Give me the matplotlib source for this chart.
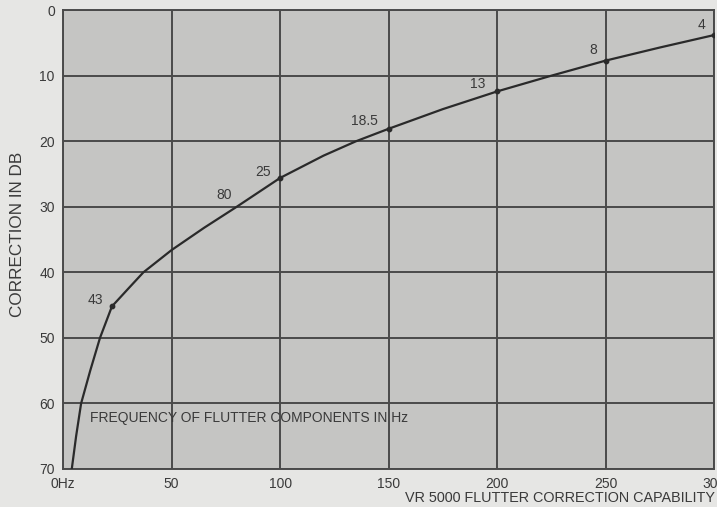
import numpy as np
import matplotlib
matplotlib.use("Agg")
import matplotlib.pyplot as plt

# curve (Hz, dB)
freq = [4, 6, 8.3, 12.5, 17, 22.5, 30, 37, 50, 65, 80, 100, 120, 135, 150, 175, 200, 225, 250, 275, 300]
db = [70, 65, 60, 55, 50, 45.2, 42.5, 40, 36.6, 33.2, 30, 25.6, 22.2, 20, 18.1, 15.1, 12.4, 10, 7.7, 5.7, 3.8]

# labelled points on the curve (the 80 label has no dot)
pt_freq = [22.5, 80, 100, 150, 200, 250, 300]
pt_db = [45.2, 30, 25.6, 18.1, 12.4, 7.7, 3.8]
pt_labels = ["43", "80", "25", "18.5", "13", "8", "4"]
pt_dot = [True, False, True, True, True, True, True]
pt_offsets = [(-17, 6), (-13, 12), (-17, 6), (-24, 8), (-19, 7), (-12, 11), (-13, 10)]

xticks = [0, 50, 100, 150, 200, 250, 300]
xticklabels = ["0Hz", "50", "100", "150", "200", "250", "300"]
yticks = [0, 10, 20, 30, 40, 50, 60, 70]

txt = "#3a3a3a"
plt.rcParams['font.family'] = ['Liberation Sans', 'DejaVu Sans']

fig = plt.figure(figsize=(7.17, 5.07), dpi=100)
fig.patch.set_facecolor("#e6e6e4")
ax = fig.add_axes([0.088, 0.075, 0.908, 0.905])
ax.set_facecolor("#c5c5c3")

ax.plot(freq, db, color="#2a2a2a", lw=1.6, zorder=3)
dx = [f for f, d in zip(pt_freq, pt_dot) if d]
dy = [v for v, d in zip(pt_db, pt_dot) if d]
ax.scatter(dx, dy, s=10, color="#2a2a2a", zorder=4)
for x, y, lab, off in zip(pt_freq, pt_db, pt_labels, pt_offsets):
    ax.annotate(lab, (x, y), xytext=off, textcoords="offset pixels",
                ha="center", va="center", fontsize=10, color=txt)

ax.set_xlim(0, 300)
ax.set_ylim(70, 0)
ax.set_xticks(xticks)
ax.set_xticklabels(xticklabels)
ax.set_yticks(yticks)
ax.tick_params(length=0, labelsize=10, colors=txt, pad=6)
ax.grid(True, color="#4a4a4a", lw=1.4)
ax.set_axisbelow(True)
for s in ax.spines.values():
    s.set_color("#4a4a4a")
    s.set_linewidth(1.4)

ax.text(12.5, 62.2, "FREQUENCY OF FLUTTER COMPONENTS IN Hz", fontsize=10,
        color=txt, ha="left", va="center")
fig.text(0.997, 0.018, "VR 5000 FLUTTER CORRECTION CAPABILITY", fontsize=10.4,
         color=txt, ha="right", va="center")
fig.text(0.025, 0.538, "CORRECTION IN DB", fontsize=12.3, color=txt,
         rotation=90, ha="center", va="center")

fig.savefig("out.png", dpi=100, facecolor=fig.get_facecolor())
